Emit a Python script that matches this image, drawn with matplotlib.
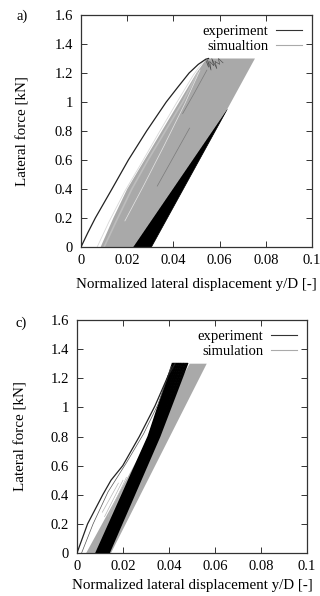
import matplotlib
matplotlib.use("Agg")
import matplotlib.pyplot as plt
from matplotlib.lines import Line2D

plt.rcParams['font.family'] = ['Liberation Serif', 'DejaVu Serif']
plt.rcParams['font.size'] = 10.5

xticks = [0, 0.02, 0.04, 0.06, 0.08, 0.1]
xtick_labels = ['0', '0.02', '0.04', '0.06', '0.08', '0.1']
yticks = [0, 0.2, 0.4, 0.6, 0.8, 1.0, 1.2, 1.4, 1.6]
ytick_labels = ['0', '0.2', '0.4', '0.6', '0.8', '1', '1.2', '1.4', '1.6']
sim_names = ['simualtion', 'simulation']

# panel a
exp_a_env_x = [0, 0.0030, 0.0062, 0.0134, 0.0205, 0.0284, 0.0369, 0.0418, 0.0468, 0.0508, 0.0540, 0.0552]
exp_a_env_y = [0, 0.10, 0.20, 0.40, 0.60, 0.80, 1.00, 1.10, 1.20, 1.26, 1.295, 1.30]
exp_a_wedge_x = [0.0226, 0.0305, 0.0633]
exp_a_wedge_y = [0, 0, 0.95]
exp_a_top_x = [0.0540, 0.0552, 0.0548, 0.0563, 0.0557, 0.0575, 0.0566, 0.0588, 0.0580, 0.0600, 0.0595, 0.0615]
exp_a_top_y = [1.29, 1.24, 1.29, 1.22, 1.28, 1.25, 1.30, 1.23, 1.28, 1.26, 1.30, 1.27]
sim_a_poly_x = [0.0085, 0.0226, 0.0633, 0.0753, 0.0552, 0.0535, 0.0500, 0.0425, 0.0350, 0.0275, 0.0200, 0.0140, 0.0085]
sim_a_poly_y = [0, 0, 0.95, 1.30, 1.30, 1.28, 1.20, 1.00, 0.80, 0.60, 0.40, 0.20, 0]
sim_a_lite1_x = [0.0070, 0.0120, 0.0188, 0.0262, 0.0338, 0.0412, 0.0488, 0.0530]
sim_a_lite1_y = [0, 0.17, 0.38, 0.58, 0.79, 0.99, 1.19, 1.28]
sim_a_lite2_x = [0.0100, 0.0150, 0.0220, 0.0290, 0.0365, 0.0440, 0.0505]
sim_a_lite2_y = [0, 0.17, 0.40, 0.60, 0.80, 1.00, 1.20]
sim_a_white_x = [0.0190, 0.0270, 0.0360, 0.0450, 0.0515]
sim_a_white_y = [0.18, 0.42, 0.70, 0.99, 1.22]
sim_a_dark1_x = [0.0330, 0.0400, 0.0470]
sim_a_dark1_y = [0.42, 0.62, 0.82]
sim_a_dark2_x = [0.0440, 0.0490, 0.0545]
sim_a_dark2_y = [0.92, 1.06, 1.22]

# panel c
exp_c_env_x = [0, 0.0046, 0.0112, 0.0148, 0.0199, 0.0271, 0.0339, 0.0397, 0.0426]
exp_c_env_y = [0, 0.20, 0.40, 0.50, 0.60, 0.80, 1.01, 1.22, 1.30]
exp_c_thin_x = [0.0020, 0.0070, 0.0135, 0.0215, 0.0290, 0.0352, 0.0410]
exp_c_thin_y = [0, 0.20, 0.42, 0.62, 0.82, 1.02, 1.28]
exp_c_res = [0.0083, 0.0087, 0.0091, 0.0095, 0.0099, 0.0103, 0.0107, 0.0111,
             0.0115, 0.0119, 0.0123, 0.0127, 0.0131, 0.0135, 0.0139]
exp_c_mid = [0.0310, 0.0313, 0.0317, 0.0320, 0.0324, 0.0327, 0.0331, 0.0334,
             0.0338, 0.0341, 0.0345, 0.0348, 0.0352, 0.0355, 0.0359]
exp_c_peak = [0.0415, 0.0420, 0.0424, 0.0429, 0.0433, 0.0438, 0.0442, 0.0447,
              0.0451, 0.0456, 0.0461, 0.0465, 0.0470, 0.0475, 0.0480]
sim_c_poly_x = [0.0040, 0.0148, 0.0564, 0.0490, 0.0040]
sim_c_poly_y = [0, 0, 1.30, 1.30, 0]
sim_c_hatch_x = [[0.0120, 0.0200], [0.0135, 0.0215], [0.0150, 0.0230], [0.0110, 0.0180]]
sim_c_hatch_y = [[0.25, 0.50], [0.25, 0.52], [0.26, 0.54], [0.28, 0.48]]

fig = plt.figure(figsize=(3.2, 5.96), dpi=100)
ax_a = fig.add_axes([81/320, 1-247/596, 231/320, 232/596])
ax_c = fig.add_axes([77/320, 1-553/596, 230/320, 233/596])

gray = '#a9a9a9'

ax_a.fill(exp_a_wedge_x, exp_a_wedge_y, color='black', lw=0.5, zorder=1)
ax_a.fill(sim_a_poly_x, sim_a_poly_y, color=gray, lw=0, zorder=2)
ax_a.plot(sim_a_lite1_x, sim_a_lite1_y, color='#d8d8d8', lw=0.6, zorder=2)
ax_a.plot(sim_a_lite2_x, sim_a_lite2_y, color='#bdbdbd', lw=1.2, zorder=2)
ax_a.plot(sim_a_white_x, sim_a_white_y, color='#e6e6e6', lw=0.5, zorder=3)
ax_a.plot(sim_a_dark1_x, sim_a_dark1_y, color='#7a7a7a', lw=0.5, zorder=3)
ax_a.plot(sim_a_dark2_x, sim_a_dark2_y, color='#7a7a7a', lw=0.5, zorder=3)
ax_a.plot(exp_a_top_x, exp_a_top_y, color='#444444', lw=0.4, zorder=4)
ax_a.plot(exp_a_env_x, exp_a_env_y, color='#222222', lw=0.9, zorder=4)

ax_c.fill(sim_c_poly_x, sim_c_poly_y, color=gray, lw=0, zorder=1)
for hx, hy in zip(sim_c_hatch_x, sim_c_hatch_y):
    ax_c.plot(hx, hy, color='#b8b8b8', lw=0.5, zorder=2)
for r, m, p in zip(exp_c_res, exp_c_mid, exp_c_peak):
    ax_c.plot([r, m, p], [0, 0.80, 1.30], color='black', lw=1.2, zorder=3)
ax_c.plot(exp_c_thin_x, exp_c_thin_y, color='#555555', lw=0.5, zorder=3)
ax_c.plot(exp_c_env_x, exp_c_env_y, color='#222222', lw=0.9, zorder=4)

for ax, sim_name in zip([ax_a, ax_c], sim_names):
    ax.set_xlim(0, 0.1)
    ax.set_ylim(0, 1.6)
    ax.set_xticks(xticks)
    ax.set_xticklabels(xtick_labels)
    ax.set_yticks(yticks)
    ax.set_yticklabels(ytick_labels)
    ax.tick_params(direction='in', top=True, right=True, length=4, width=0.7,
                   color='#333333', labelsize=10.5)
    ax.tick_params(axis='x', pad=5)
    ax.tick_params(axis='y', pad=6)
    for s in ax.spines.values():
        s.set_linewidth(0.9)
        s.set_color('#333333')
    ax.set_xlabel('Normalized lateral displacement y/D [-]', fontsize=10.8)
    ax.set_ylabel('Lateral force [kN]', fontsize=10.8)
    handles = [Line2D([], [], color='#333333', lw=0.8),
               Line2D([], [], color='#aaaaaa', lw=0.8)]
    ax.legend(handles, ['experiment', sim_name], loc='upper right', frameon=False,
              markerfirst=False, handlelength=1.8, handletextpad=0.5,
              labelspacing=0.1, borderaxespad=0.3, fontsize=10.5)

ax_a.xaxis.set_label_coords(0.5, -0.135)
ax_a.yaxis.set_label_coords(-0.225, 0.5)
ax_c.xaxis.set_label_coords(0.5, -0.11)
ax_c.yaxis.set_label_coords(-0.215, 0.5)

fig.text(22/320, 1-16/596, 'a)', ha='center', va='center', fontsize=10.5)
fig.text(21/320, 1-323/596, 'c)', ha='center', va='center', fontsize=10.5)

fig.savefig('out.png', dpi=100)
